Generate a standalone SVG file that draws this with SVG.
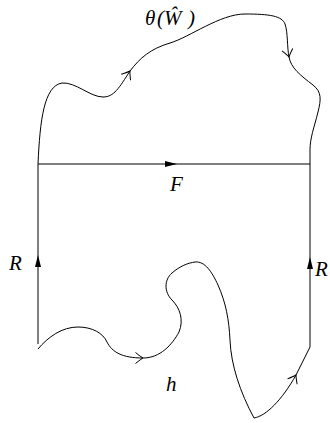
<svg xmlns="http://www.w3.org/2000/svg" width="330" height="423" viewBox="0 0 330 423">
<style>
.c{fill:none;stroke:#000;stroke-width:1}
.v{fill:none;stroke:#000;stroke-width:1}
.t{font-family:"Liberation Serif","Times New Roman",serif;font-style:italic;font-size:21px;fill:#000}
</style>
<defs>
<marker id="open" markerUnits="userSpaceOnUse" markerWidth="20" markerHeight="20" viewBox="-10 -10 20 20" refX="0" refY="0" orient="auto" overflow="visible">
<path d="M-7.5,-5.5 Q-2,-1 0,0 Q-2,1 -7.5,5.5" fill="none" stroke="#000" stroke-width="1"/>
</marker>
<marker id="fill" markerUnits="userSpaceOnUse" markerWidth="20" markerHeight="20" viewBox="-15 -10 20 20" refX="0" refY="0" orient="auto" overflow="visible">
<path d="M-12,-3 L0,0 L-12,3 Z" fill="#000"/>
</marker>
</defs>
<g id="connectors">
<path id="top-a" class="c" d="M38,164 C40,120 44,86 62,83 C76,82 90,97 103,97 C114,97 119,88 130,71" marker-end="url(#open)"/>
<path id="top-b" class="c" d="M130,71 C140,58 150,49 170,43 C190,37 220,14 245,14 C270,14 282,16 285,24 C288,32 287,48 289,57" marker-end="url(#open)"/>
<path id="top-c" class="c" d="M289,57 C291,68 300,75 313,85 C322,92 321,100 318,112 C314,128 310,138 310,150 L310,164"/>
<path id="F-line" class="v" d="M38,164 L177,164 L310,164" marker-mid="url(#fill)"/>
<path id="R-left" class="v" d="M38,344 L38,255 L38,164" marker-mid="url(#fill)"/>
<path id="R-right" class="v" d="M310,347 L310,257 L310,164" marker-mid="url(#fill)"/>
<path id="h-a" class="c" d="M38,349 C48,337 62,327 78,327 C92,327 103,333 107,342 C112,352 122,358 143,358" marker-end="url(#open)"/>
<path id="h-b" class="c" d="M143,358 C160,358 172,345 179,332 C184,320 180,308 172,300 C164,292 164,280 172,273 C180,266 188,263 195,262 C205,261 212,272 218,285 C226,303 229,320 230,340 C231,365 240,392 254,418" />
<path id="h-c" class="c" d="M254,418 C266,416 282,400 296,375" marker-end="url(#open)"/>
<path id="h-d" class="c" d="M296,375 L310,347"/>
</g>
<g id="label-theta"><text class="t" y="25"><tspan x="145">θ</tspan><tspan x="157">(</tspan><tspan x="164">Ŵ</tspan><tspan x="188">)</tspan></text></g>
<g id="label-F"><text class="t" x="170" y="191">F</text></g>
<g id="label-R-left"><text class="t" x="9" y="270">R</text></g>
<g id="label-R-right"><text class="t" x="315" y="276">R</text></g>
<g id="label-h"><text class="t" x="166" y="391">h</text></g>
</svg>
